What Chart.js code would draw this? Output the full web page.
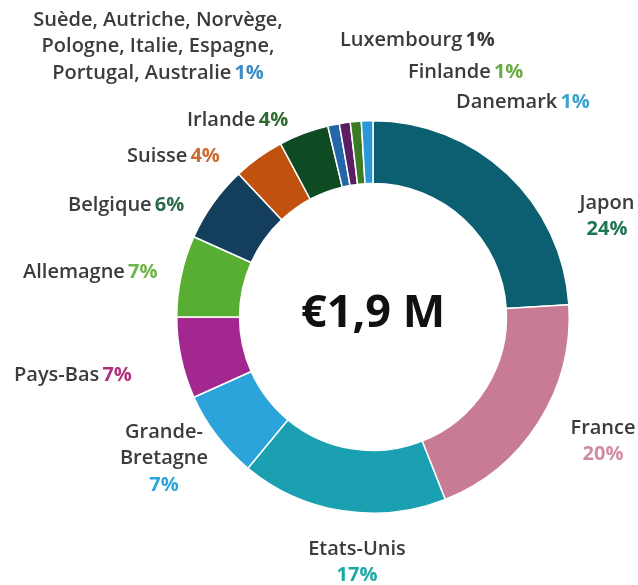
<!DOCTYPE html>
<html>
<head>
<meta charset="utf-8">
<script src="https://cdn.jsdelivr.net/npm/chart.js@4.4.1/dist/chart.umd.min.js"></script>
<style>
  html, body { margin: 0; padding: 0; background: #ffffff; }
  #wrap { width: 638px; height: 585px; position: relative; }
</style>
</head>
<body>
<div id="wrap"><canvas id="c" width="638" height="585"></canvas></div>
<script>
// ---- data ----
const categories = ["Japon", "France", "Etats-Unis", "Grande-Bretagne", "Pays-Bas", "Allemagne",
  "Belgique", "Suisse", "Irlande", "Suède, Autriche, Norvège, Pologne, Italie, Espagne, Portugal, Australie",
  "Luxembourg", "Finlande", "Danemark"];
const values = [24, 20, 17, 7.3, 6.7, 6.7, 6.3, 4.2, 4.1, 0.95, 0.9, 0.9, 0.95];
const pctLabels = ["24%", "20%", "17%", "7%", "7%", "7%", "6%", "4%", "4%", "1%", "1%", "1%", "1%"];
const totalLabel = "€1,9 M";

// ---- styles ----
const sliceColors = ["#0b5f71", "#c87b95", "#1aa0b1", "#2ba4dc", "#a2278f", "#58ad33",
  "#133f5d", "#c0510f", "#0e4a22", "#2467a8", "#5b1d63", "#3b7b25", "#2997d8"];
const pctColors = ["#1f7550", "#d08ca0", "#1aa9a5", "#2aa6dc", "#b0307c", "#6db34a",
  "#2d6a4c", "#cc6a32", "#2e6b2e", "#3a8cc4", "#3a3a3a", "#6aab42", "#3aa2cc"];

// label layout: name lines, anchor x, first line y, alignment, pct on own line?
const labelLayout = [
  { lines: ["Japon"], x: 607, y: 203, align: "center", pctNewLine: true },
  { lines: ["France"], x: 603, y: 428, align: "center", pctNewLine: true },
  { lines: ["Etats-Unis"], x: 357, y: 549, align: "center", pctNewLine: true },
  { lines: ["Grande-", "Bretagne"], x: 164, y: 432, align: "center", pctNewLine: true },
  { lines: ["Pays-Bas"], x: 14, y: 375, align: "left" },
  { lines: ["Allemagne"], x: 23, y: 272, align: "left" },
  { lines: ["Belgique"], x: 68, y: 205, align: "left" },
  { lines: ["Suisse"], x: 127, y: 156, align: "left" },
  { lines: ["Irlande"], x: 187, y: 120, align: "left" },
  { lines: ["Suède, Autriche, Norvège,", "Pologne, Italie, Espagne,", "Portugal, Australie"], x: 158, y: 20, align: "center" },
  { lines: ["Luxembourg"], x: 340, y: 40, align: "left" },
  { lines: ["Finlande"], x: 408, y: 72, align: "left" },
  { lines: ["Danemark"], x: 456, y: 102, align: "left" }
];

const FONT_NAME = "600 20px 'Open Sans'";
const FONT_PCT = "bold 20px 'Open Sans'";
const LINE_H = 26.5;
const NAME_COLOR = "#3b3b3b";

const labelPlugin = {
  id: "outerLabels",
  afterDraw(chart) {
    const ctx = chart.ctx;
    ctx.save();
    ctx.textBaseline = "middle";
    labelLayout.forEach((L, i) => {
      const pct = pctLabels[i];
      const n = L.lines.length;
      ctx.font = FONT_NAME;
      const spaceW = ctx.measureText(" ").width * 0.6;
      L.lines.forEach((line, k) => {
        const y = L.y + k * LINE_H;
        const isLast = k === n - 1;
        if (isLast && !L.pctNewLine) {
          ctx.font = FONT_NAME;
          const w1 = ctx.measureText(line).width;
          ctx.font = FONT_PCT;
          const w2 = ctx.measureText(pct).width;
          const total = w1 + spaceW + w2;
          let x0 = L.align === "center" ? L.x - total / 2 : (L.align === "right" ? L.x - total : L.x);
          ctx.textAlign = "left";
          ctx.font = FONT_NAME;
          ctx.fillStyle = NAME_COLOR;
          ctx.fillText(line, x0, y);
          ctx.font = FONT_PCT;
          ctx.fillStyle = pctColors[i];
          ctx.fillText(pct, x0 + w1 + spaceW, y);
        } else {
          ctx.font = FONT_NAME;
          ctx.fillStyle = NAME_COLOR;
          ctx.textAlign = L.align;
          ctx.fillText(line, L.x, y);
        }
      });
      if (L.pctNewLine) {
        ctx.font = FONT_PCT;
        ctx.fillStyle = pctColors[i];
        ctx.textAlign = "center";
        ctx.fillText(pct, L.x, L.y + n * LINE_H);
      }
    });
    // center total
    const arc = chart.getDatasetMeta(0).data[0];
    ctx.font = "bold 45px 'Open Sans'";
    ctx.fillStyle = "#111111";
    ctx.textAlign = "center";
    ctx.fillText(totalLabel, arc.x, arc.y - 3);
    ctx.restore();
  }
};

new Chart(document.getElementById("c"), {
  type: "doughnut",
  data: {
    labels: categories,
    datasets: [{
      data: values,
      backgroundColor: sliceColors,
      borderColor: "#ffffff",
      borderWidth: 1.5
    }]
  },
  options: {
    responsive: false,
    animation: false,
    cutout: "68%",
    layout: { padding: { left: 176, right: 68, top: 120, bottom: 71 } },
    plugins: { legend: { display: false }, tooltip: { enabled: false } }
  },
  plugins: [labelPlugin]
});
</script>
</body>
</html>
